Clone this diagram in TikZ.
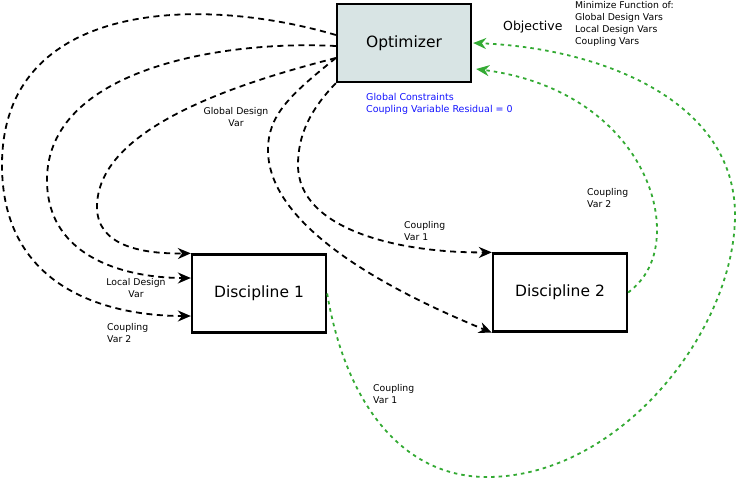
\documentclass[tikz,border=0pt]{standalone}
\usepackage{fontspec}
\setmainfont{DejaVu Sans}
\usetikzlibrary{positioning,arrows.meta}
\definecolor{optfill}{RGB}{216,228,228}
\definecolor{loopgreen}{RGB}{51,170,51}
\definecolor{conblue}{RGB}{20,20,255}
\tikzset{%
  every block/.style={
    draw,
    line width=2.3pt,
    minimum width=134pt,
    minimum height=78pt,
    font=\fontsize{15.5}{18}\selectfont
  },
  block optimizer/.style={
    fill=optfill
  },
  var flow/.style={
    dash pattern=on 6pt off 4.5pt,
    line width=1.8pt,
    -{Stealth[length=13pt,width=11pt]}
  },
  var feedback/.style={
    var flow,
    draw=loopgreen,
    dash pattern=on 3.5pt off 4pt,
    -{Stealth[length=13pt,width=11pt,fill=loopgreen]}
  },
  var label/.style={
    inner sep=0pt,
    font=\fontsize{9.3}{11.8}\selectfont
  },
}

\begin{document}
\begin{tikzpicture}[x=1pt, y=-1pt]
    \useasboundingbox (0,0) rectangle (737,479);

    % blocks
    \node [every block/.try, block optimizer/.try] (opt) at (404,43) {Optimizer};
    \node [every block/.try] (disc1) at (259,293.5) {Discipline 1};
    \node [every block/.try] (disc2) at (560,292.5) {Discipline 2};

    % optimizer -> discipline 1
    \draw [var flow] ([yshift=8pt]opt.west)
      .. controls (200,-5) and (2,0) .. (2,165)
      .. controls (2,290) and (110,316) .. ([yshift=-22.5pt]disc1.west);
    \draw [var flow] ([yshift=-3pt]opt.west)
      .. controls (220,40) and (47,70) .. (47,180)
      .. controls (47,260) and (130,278) .. ([yshift=15.5pt]disc1.west);
    \draw [var flow] ([yshift=-15pt]opt.west)
      .. controls (230,85) and (97,130) .. (97,207)
      .. controls (97,245) and (140,254) .. (disc1.north west);

    % optimizer -> discipline 2
    \draw [var flow] ([yshift=-15pt]opt.west)
      .. controls (290,95) and (268,115) .. (268,150)
      .. controls (268,230) and (400,295) .. (disc2.south west);
    \draw [var flow] (opt.south west)
      .. controls (310,110) and (298,135) .. (298,165)
      .. controls (298,230) and (400,253) .. (disc2.north west);

    % disciplines -> optimizer
    \draw [var feedback] (disc2.east)
      .. controls (645,280) and (657,260) .. (657,230)
      .. controls (657,165) and (600,85) .. ([xshift=4pt,yshift=-26pt]opt.east);
    \draw [var feedback] (disc1.east)
      .. controls (345,400) and (400,477) .. (487,477)
      .. controls (620,477) and (735,330) .. (735,215)
      .. controls (735,100) and (600,48) .. ([xshift=1pt]opt.east);

    % labels
    \node [var label, align=center] (gdv) at (236,117) {Global Design\\Var};
    \node [var label, align=center] (ldv) at (136,288) {Local Design\\Var};
    \foreach \t/\x/\y [count=\i] in {{Coupling\\Var 2}/107/333, {Coupling\\Var 1}/404/231,
                                    {Coupling\\Var 2}/587/198, {Coupling\\Var 1}/373/394}
      \node [var label, align=left, anchor=west] (cv-\i) at (\x,\y) {\t};

    \node [var label, align=left, anchor=west, text=conblue,
           font=\fontsize{9.5}{11.8}\selectfont] (cons) at (366,104)
      {Global Constraints\\Coupling Variable Residual = 0};
    \node [var label, anchor=west, font=\fontsize{12.5}{15}\selectfont] (obj) at (503,27) {Objective};
    \node [var label, align=left, anchor=west] (minf) at (575,24)
      {Minimize Function of:\\Global Design Vars\\Local Design Vars\\Coupling Vars};

\end{tikzpicture}
\end{document}
